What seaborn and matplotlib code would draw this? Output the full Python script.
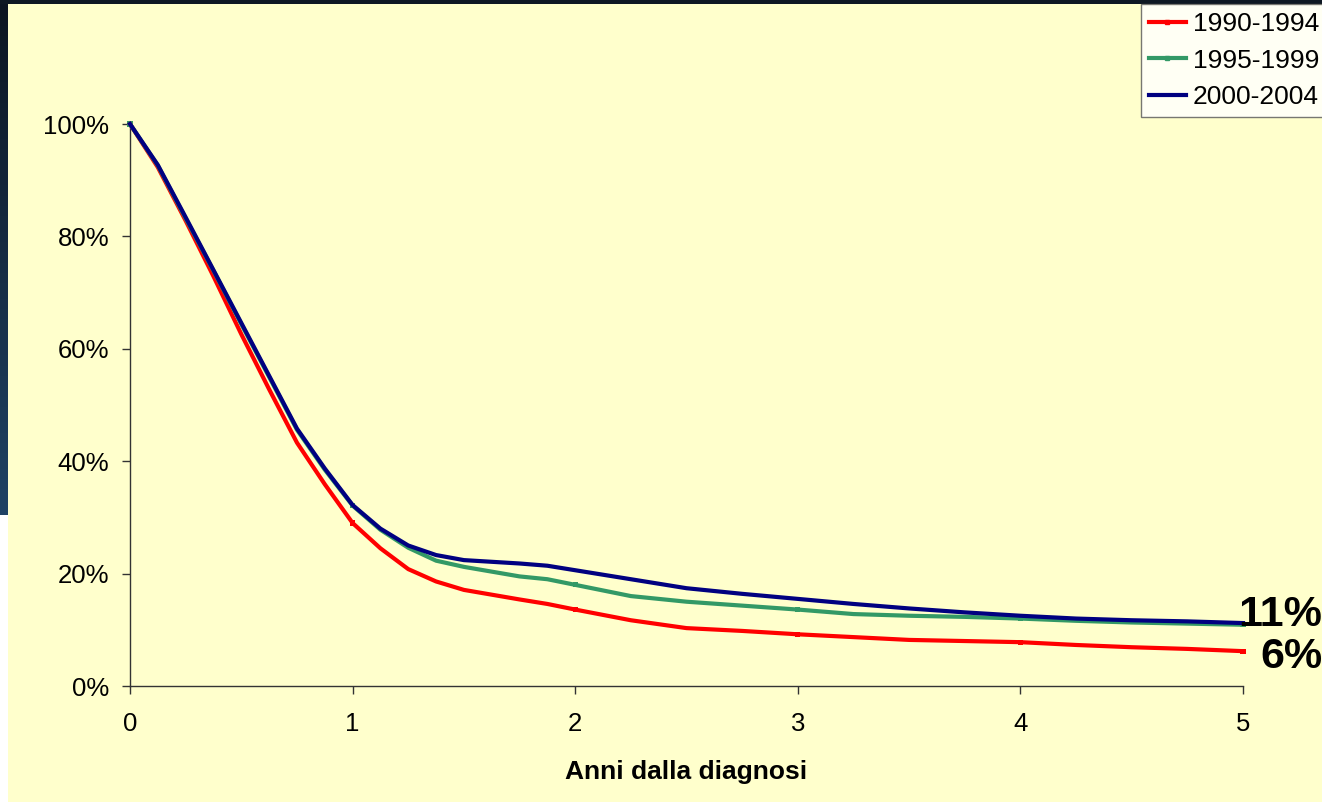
import numpy as np
import pandas as pd
import seaborn as sns
import matplotlib.pyplot as plt
from matplotlib.lines import Line2D
from matplotlib.ticker import FuncFormatter

# years since diagnosis (shared grid)
years = [0, 0.125, 0.25, 0.375, 0.5, 0.625, 0.75, 0.875, 1.0,
         1.125, 1.25, 1.375, 1.5, 1.75, 1.875, 2.0, 2.25, 2.5, 2.75,
         3.0, 3.25, 3.5, 3.75, 4.0, 4.25, 4.5, 4.75, 5.0]

# survival (%) per period
surv_1990 = [100, 92.3, 82.8, 72.9, 62.6, 52.8, 43.3, 35.9, 29.0,
             24.5, 20.8, 18.6, 17.1, 15.4, 14.6, 13.6, 11.7, 10.3, 9.8,
             9.2, 8.7, 8.2, 8.0, 7.8, 7.3, 6.9, 6.6, 6.2]
surv_1995 = [100, 92.6, 83.2, 73.9, 64.4, 55.0, 45.6, 38.5, 32.1,
             27.8, 24.6, 22.3, 21.2, 19.5, 19.0, 18.0, 16.0, 15.0, 14.3,
             13.6, 12.8, 12.5, 12.3, 12.0, 11.6, 11.3, 11.1, 10.9]
surv_2000 = [100, 92.7, 83.4, 74.0, 64.6, 55.2, 45.8, 38.7, 32.2,
             28.0, 25.0, 23.3, 22.4, 21.8, 21.4, 20.6, 19.0, 17.4, 16.4,
             15.5, 14.6, 13.8, 13.1, 12.5, 12.0, 11.7, 11.5, 11.2]

periods = ['1990-1994', '1995-1999', '2000-2004']
colors = {'1990-1994': '#FF0000', '1995-1999': '#339966', '2000-2004': '#000080'}
end_labels = ['11%', '6%']

df = pd.DataFrame({
    'Anni': years * 3,
    'Sopravvivenza': surv_1990 + surv_1995 + surv_2000,
    'Periodo': np.repeat(periods, len(years)),
})

bg = '#FFFFCC'
W, H = 1322, 802
fig = plt.figure(figsize=(W / 100, H / 100), dpi=100, facecolor=bg)
plt.rcParams['font.family'] = ['Liberation Sans', 'DejaVu Sans']

# slide background strips (top and left edge)
strip = fig.add_axes([0, 1 - 515 / H, 8 / W, 515 / H])
grad = np.linspace(0, 1, 100).reshape(-1, 1)
strip.imshow(grad, aspect='auto', cmap=sns.blend_palette(['#0c1521', '#1f4264'], as_cmap=True))
strip.axis('off')
white = fig.add_axes([0, 0, 8 / W, 1 - 515 / H])
white.set_facecolor('white')
white.set_xticks([]); white.set_yticks([])
for s in white.spines.values():
    s.set_visible(False)
top = fig.add_axes([0, 1 - 4 / H, 1, 4 / H])
top.set_facecolor('#0e1823')
top.set_xticks([]); top.set_yticks([])
for s in top.spines.values():
    s.set_visible(False)

ax = fig.add_axes([130 / W, 1 - 686 / H, (1243 - 130) / W, (686 - 124) / H])
ax.set_facecolor(bg)

sns.lineplot(data=df, x='Anni', y='Sopravvivenza', hue='Periodo', palette=colors,
             hue_order=periods, estimator=None, linewidth=3, ax=ax, legend=False,
             clip_on=False, zorder=3)

# small square markers at whole years for the first two periods
marks = df[(df['Anni'] % 1 == 0) & (df['Periodo'] != '2000-2004')]
sns.scatterplot(data=marks, x='Anni', y='Sopravvivenza', hue='Periodo', palette=colors,
                marker='s', s=14, linewidth=0, ax=ax, legend=False, clip_on=False, zorder=2)

ax.set_xlim(0, 5)
ax.set_ylim(0, 100)
ax.set_xticks(range(0, 6))
ax.set_yticks(range(0, 101, 20))
ax.yaxis.set_major_formatter(FuncFormatter(lambda v, p: f'{v:.0f}%'))
ax.tick_params(axis='both', labelsize=18.5, length=6, width=1, color='#333333')
ax.tick_params(axis='y', pad=9)
ax.tick_params(axis='x', pad=13)
ax.set_xlabel('Anni dalla diagnosi', fontsize=19, fontweight='bold', labelpad=17)
ax.set_ylabel('')
sns.despine(ax=ax)
for s in ['left', 'bottom']:
    ax.spines[s].set_color('#333333')
    ax.spines[s].set_linewidth(1)

# end-of-curve labels
fig.text(1.0, 1 - 615 / H, end_labels[0], fontsize=31, fontweight='bold', ha='right', va='center')
fig.text(1.0, 1 - 657 / H, end_labels[1], fontsize=31, fontweight='bold', ha='right', va='center')

handles = [Line2D([], [], color=colors[p], linewidth=3,
                  marker='s' if p != '2000-2004' else None, markersize=3) for p in periods]
leg = fig.legend(handles, periods, loc='upper left', bbox_to_anchor=(1141 / W, 1 - 4 / H),
                 fontsize=19, frameon=True, fancybox=False, handlelength=1.4,
                 handletextpad=0.27, borderpad=0.3, labelspacing=0.48, numpoints=1,
                 borderaxespad=0)
leg.get_frame().set_edgecolor('#555555')
leg.get_frame().set_facecolor('white')
leg.get_frame().set_linewidth(1)

fig.savefig('out.png', dpi=100, facecolor=bg)
